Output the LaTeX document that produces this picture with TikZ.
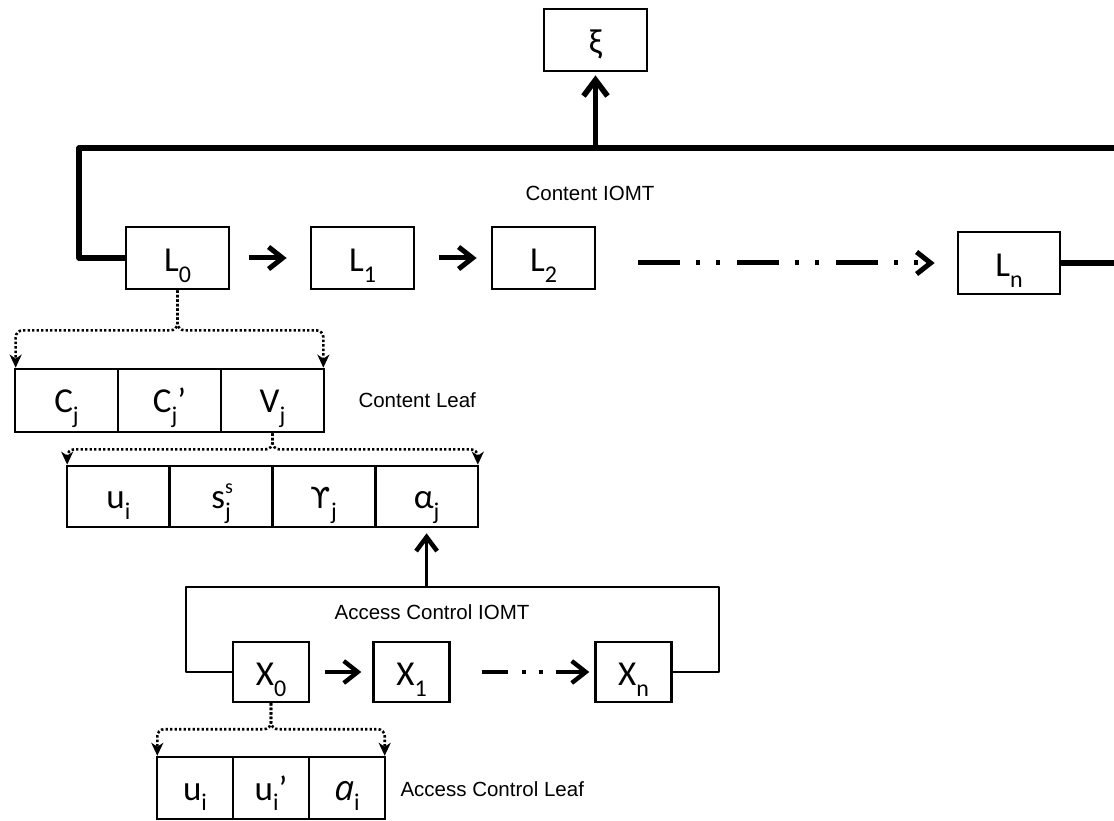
\documentclass[tikz,border=0pt]{standalone}
\usepackage{fontspec}
\setmainfont{Carlito}
\newfontfamily\notefont{Liberation Sans}
\newfontfamily\symfont{DejaVu Sans}
\newfontfamily\slantfont{Open Sans}
\usetikzlibrary{arrows.meta}

% lowered index and raised index used in the box labels
\newcommand\lowsub[1]{\raisebox{-0.3em}{\fontsize{24}{24}\selectfont #1}}
\newcommand\highsup[1]{\raisebox{0.42em}{\fontsize{20}{20}\selectfont #1}}

\begin{document}
\begin{tikzpicture}[x=1pt,y=-1pt,
  box/.style={draw, line width=2.7pt, inner sep=0pt, fill=white,
    minimum width=103pt, minimum height=62pt,
    text height=27pt, text depth=0pt,
    font=\fontsize{35}{35}\selectfont},
  cell/.style={box, minimum height=63pt, text height=24pt},
  smallbox/.style={box, line width=2.4pt, minimum width=76pt, minimum height=60pt},
  note/.style={font=\notefont\fontsize{20.5}{20.5}\selectfont},
  heavy/.style={line width=5.6pt, line join=round},
  light/.style={line width=2.2pt, line join=round},
  chevron/.style={-{Straight Barb[length=14pt,width=22pt]}},
  bigchevron/.style={-{Straight Barb[length=16pt,width=24pt]}},
  splitter/.style={line width=2.6pt, dash pattern=on 2.4pt off 2.1pt,
    rounded corners=7pt, -{Stealth[length=13pt,width=12pt,inset=4pt]}}
]
\clip (0,0) rectangle (1114,821);

% ---------- content IOMT ----------
\node[box] (xi) at (595.5,40) {ξ};
\node[box] (L0) at (177.5,258) {L\lowsub{0}};
\node[box] (L1) at (362.5,258) {L\lowsub{1}};
\node[box] (L2) at (543.5,258) {L\lowsub{2}};
\node[box, minimum width=102pt] (Ln) at (1009,263) {L\lowsub{n}};

\coordinate (tl) at (79,148);
\coordinate (tr) at (1117,148);
\coordinate (hub) at (595.5,148);

\draw[heavy] (L0.west) -| (tl) -- (tr) |- (Ln.east);
\draw[heavy, bigchevron, shorten >=3pt] (hub) -- (xi.south);

\draw[line width=5pt, chevron, shorten <=19pt, shorten >=23pt] (L0.east) -- (L1.west);
\draw[line width=5pt, chevron, shorten <=24pt, shorten >=14pt] (L1.east) -- (L2.west);
\draw[line width=5pt, chevron, shorten <=42pt, shorten >=22pt,
  dash pattern=on 42pt off 16pt on 4pt off 16pt on 4pt off 17pt]
  (L2.east |- Ln.west) -- (Ln.west);

\node[note] (cnote) at (590,193) {Content IOMT};

% ---------- content leaf ----------
\node[cell] (c1) at (66.5,400.5) {C\lowsub{j}};
\node[cell] (c2) at (169.5,400.5) {C\lowsub{j}’};
\node[cell] (c3) at (272.5,400.5) {V\lowsub{j}};
\node[note, anchor=west] (lnote) at (355,400) {Content Leaf};

\draw[splitter] (L0.south) -- ++(0,40) -| ([xshift=2pt]c1.north west);
\draw[splitter] (L0.south) -- ++(0,40) -| ([xshift=-2pt]c3.north east);

% ---------- value fields ----------
\node[cell, minimum width=102.75pt, minimum height=61pt] (r1) at (118.4,496.5) {u\lowsub{i}};
\node[cell, minimum width=102.75pt, minimum height=61pt] (r2) at (221.1,496.5) {s\rlap{\highsup{s}}\lowsub{j}};
\node[cell, minimum width=102.75pt, minimum height=61pt] (r3) at (323.9,496.5) {{\symfont\fontsize{29}{29}\selectfont ϒ}\lowsub{j}};
\node[cell, minimum width=102.75pt, minimum height=61pt] (r4) at (426.6,496.5) {α\lowsub{j}};

\draw[splitter] (c3.south) -- ++(0,16) -| ([xshift=1.5pt]r1.north west);
\draw[splitter] (c3.south) -- ++(0,16) -| ([xshift=-1.5pt]r4.north east);

% ---------- access control IOMT ----------
\node[smallbox] (X0) at (271,672) {X\lowsub{0}};
\node[smallbox] (X1) at (411.5,672) {X\lowsub{1}};
\node[smallbox] (Xn) at (633.5,672) {X\lowsub{n}};

\coordinate (al) at (186,587);
\coordinate (ar) at (719,587);
\coordinate (ahub) at (426.6,587);

\draw[light] (X0.west) -| (al) -- (ar) |- (Xn.east);
\draw[line width=3pt, -{Straight Barb[length=14pt,width=21pt,line width=4.5pt]}, shorten >=5pt]
  (ahub) -- (r4.south);

\draw[line width=4.4pt, chevron, shorten <=15pt, shorten >=11pt] (X0.east) -- (X1.west);
\draw[line width=4.4pt, chevron, shorten <=31pt, shorten >=5pt,
  dash pattern=on 26pt off 14pt on 4pt off 13pt on 4pt off 13pt on 300pt]
  (X1.east) -- (Xn.west);

\node[note] (anote) at (432,612) {Access Control IOMT};

% ---------- access control leaf ----------
\node[smallbox, minimum height=62pt, text height=24pt] (b1) at (195,788) {u\lowsub{i}};
\node[smallbox, minimum height=62pt, text height=24pt] (b2) at (271,788) {u\lowsub{i}’};
\node[smallbox, minimum height=62pt, text height=24pt] (b3) at (347,788) {{\slantfont\itshape a}\lowsub{i}};
\node[note, anchor=west] (bnote) at (397,789) {Access Control Leaf};

\draw[splitter] (X0.south) -- ++(0,26) -| ([xshift=1.5pt]b1.north west);
\draw[splitter] (X0.south) -- ++(0,26) -| ([xshift=-1.5pt]b3.north east);
\end{tikzpicture}
\end{document}
